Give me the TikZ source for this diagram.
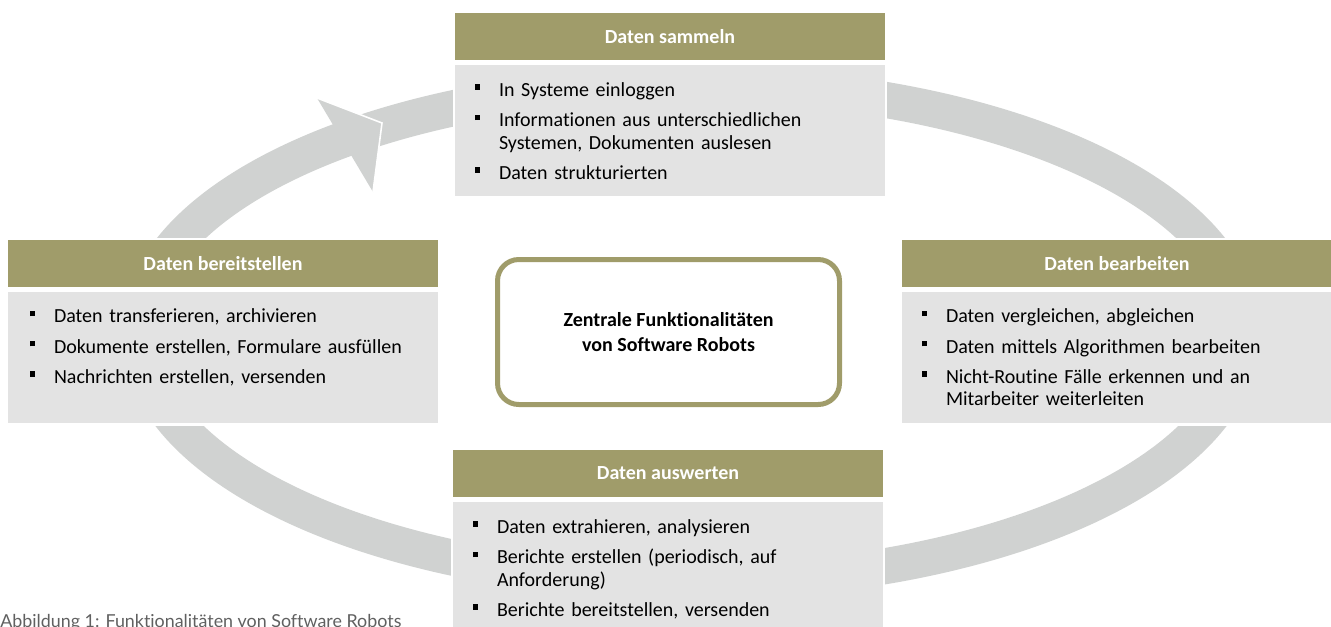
\documentclass[tikz,border=0pt]{standalone}
\usepackage{fontspec}
\setmainfont{Carlito}[Ligatures=NoCommon]
\newfontfamily\capfont{Lato}[Ligatures=NoCommon]
\usetikzlibrary{positioning,backgrounds}
\definecolor{olivec}{HTML}{A09C6A}
\definecolor{bodyc}{HTML}{E3E3E3}
\definecolor{ringc}{HTML}{D0D2D1}
\definecolor{capc}{HTML}{606060}
% one bullet line with hanging indent
\newcommand{\bitem}[1]{\par\hangindent=18pt\hangafter=1\noindent
  \makebox[18pt][l]{\raisebox{5pt}{\rule{4pt}{4pt}}}\strut#1\par}

\begin{document}
\begin{tikzpicture}[x=0.75pt, y=-0.75pt,
  hd/.style={fill=olivec, minimum width=322.5pt, minimum height=35.25pt,
    inner sep=0, text=white, font=\fontsize{15}{18}\selectfont\bfseries},
  bd/.style={fill=bodyc, minimum width=322.5pt, minimum height=98.25pt, inner sep=0},
  lst/.style={inner sep=0, text width=300pt, align=left,
    font=\fontsize{15}{16.9}\selectfont,
    execute at begin node={\setlength{\parskip}{5.8pt}}},
  hub/.style={draw=olivec, line width=3.75pt, rounded corners=16pt, fill=white,
    minimum width=256.5pt, minimum height=108.75pt, align=center,
    font=\fontsize{15}{18.75}\selectfont\bfseries},
  ring/.style={draw=ringc, line width=27pt},
  pad/.style={fill=white}
]
  \useasboundingbox (0,0) rectangle (1331,626);

  % four stages
  \node[hd] (hsam) at (670,36.5) {Daten sammeln};
  \node[bd, below=3.6pt of hsam] (bsam) {};
  \node[lst, below right=0.6pt and 15pt of bsam.north west] (lsam) {%
    \bitem{In Systeme einloggen}
    \bitem{Informationen aus unterschiedlichen\newline Systemen, Dokumenten auslesen}
    \bitem{Daten strukturierten}};

  \node[hd] (hber) at (223,263.5) {Daten bereitstellen};
  \node[bd, below=3.6pt of hber] (bber) {};
  \node[lst, below right=0.2pt and 16.5pt of bber.north west] (lber) {%
    \bitem{Daten transferieren, archivieren}
    \bitem{Dokumente erstellen, Formulare ausfüllen}
    \bitem{Nachrichten erstellen, versenden}};

  \node[hd] (hbea) at (1117,263.5) {Daten bearbeiten};
  \node[bd, below=3.6pt of hbea] (bbea) {};
  \node[lst, below right=0.2pt and 15pt of bbea.north west] (lbea) {%
    \bitem{Daten vergleichen, abgleichen}
    \bitem{Daten mittels Algorithmen bearbeiten}
    \bitem{Nicht-Routine Fälle erkennen und an\newline Mitarbeiter weiterleiten}};

  \node[hd] (hausw) at (668,473.5) {Daten auswerten};
  \node[bd, below=3.6pt of hausw] (bausw) {};
  \node[lst, below right=0.6pt and 15pt of bausw.north west] (lausw) {%
    \bitem{Daten extrahieren, analysieren}
    \bitem{Berichte erstellen (periodisch, auf\newline Anforderung)}
    \bitem{Berichte bereitstellen, versenden}};

  % centre
  \node[hub] (hub) at (668.5,332) {Zentrale Funktionalitäten\\von Software Robots};

  % cycle band and its arrowhead, behind the stages
  \begin{scope}[on background layer]
    \draw[ring] (691,333) ellipse [x radius=552, y radius=249];
    \coordinate (barbA) at (317,98);
    \coordinate (tipA) at (382,123);
    \coordinate (barbB) at (373,192);
    \fill[ringc] (barbA) -- (tipA) -- (barbB) -- cycle;
    \draw[white, line width=1.2pt] (barbA) -- (tipA) -- (barbB);
    \foreach \h/\b in {hsam/bsam, hber/bber, hbea/bbea, hausw/bausw}
      \fill[pad] ([shift={(-2,-2)}]\h.north west) rectangle ([shift={(2,2)}]\b.south east);
  \end{scope}

  \node[anchor=base west, inner sep=0, text=capc, font=\capfont\fontsize{13.4}{16}\selectfont]
    (cap) at (0,627) {Abbildung 1: Funktionalitäten von Software Robots};
\end{tikzpicture}
\end{document}
